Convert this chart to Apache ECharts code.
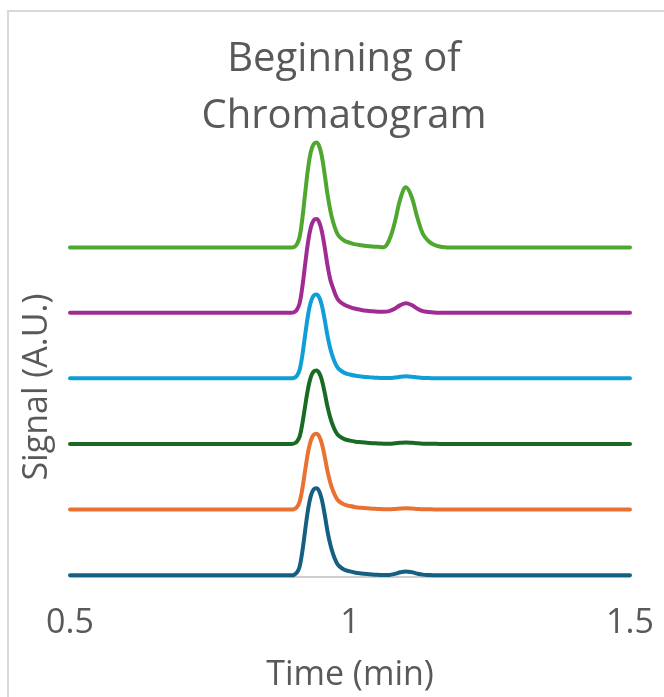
<!DOCTYPE html>
<html>
<head>
<meta charset="utf-8">
<script src="https://cdn.jsdelivr.net/npm/echarts@6/dist/echarts.min.js"></script>
<style>
  html, body { margin: 0; padding: 0; background: #ffffff; }
  #chart { width: 664px; height: 697px; }
</style>
</head>
<body>
<div id="chart"></div>
<script>
// Retention time (min) shared by every trace
const times = [0.5, 0.89, 0.895, 0.9, 0.905, 0.91, 0.915, 0.92, 0.925, 0.93, 0.935, 0.94, 0.945, 0.95, 0.955, 0.96, 0.965, 0.97, 0.975, 0.98, 0.99, 1.0, 1.01, 1.02, 1.03, 1.04, 1.05, 1.06, 1.07, 1.08, 1.09, 1.1, 1.11, 1.12, 1.13, 1.14, 1.15, 1.16, 1.17, 1.18, 1.2, 1.5];

// Stacked detector signals (A.U.), each trace offset by one unit
const trace1 = [0.025, 0.025, 0.025, 0.032, 0.065, 0.158, 0.397, 0.717, 1.023, 1.235, 1.335, 1.355, 1.308, 1.169, 0.943, 0.690, 0.491, 0.344, 0.238, 0.171, 0.111, 0.085, 0.065, 0.054, 0.045, 0.038, 0.033, 0.029, 0.032, 0.048, 0.072, 0.085, 0.074, 0.052, 0.036, 0.030, 0.027, 0.026, 0.025, 0.025, 0.025, 0.025];
const trace2 = [1.03, 1.03, 1.03, 1.036, 1.065, 1.146, 1.353, 1.631, 1.896, 2.081, 2.168, 2.185, 2.145, 2.023, 1.827, 1.608, 1.434, 1.307, 1.215, 1.157, 1.105, 1.082, 1.065, 1.055, 1.047, 1.042, 1.037, 1.033, 1.033, 1.037, 1.044, 1.048, 1.045, 1.038, 1.033, 1.032, 1.031, 1.03, 1.03, 1.03, 1.03, 1.03];
const trace3 = [2.03, 2.03, 2.03, 2.036, 2.064, 2.142, 2.344, 2.612, 2.87, 3.049, 3.133, 3.15, 3.111, 2.993, 2.803, 2.59, 2.422, 2.299, 2.209, 2.153, 2.103, 2.08, 2.064, 2.055, 2.047, 2.041, 2.037, 2.033, 2.033, 2.038, 2.047, 2.052, 2.048, 2.04, 2.034, 2.032, 2.031, 2.03, 2.03, 2.03, 2.03, 2.03];
const trace4 = [3.03, 3.03, 3.03, 3.036, 3.068, 3.158, 3.388, 3.696, 3.99, 4.195, 4.291, 4.31, 4.265, 4.131, 3.913, 3.67, 3.478, 3.337, 3.235, 3.171, 3.113, 3.088, 3.068, 3.058, 3.049, 3.043, 3.038, 3.034, 3.034, 3.041, 3.054, 3.06, 3.055, 3.044, 3.035, 3.033, 3.031, 3.03, 3.03, 3.03, 3.03, 3.03];
const trace5 = [4.03, 4.03, 4.03, 4.037, 4.073, 4.173, 4.43, 4.774, 5.103, 5.331, 5.439, 5.46, 5.41, 5.26, 5.017, 4.745, 4.53, 4.402, 4.287, 4.216, 4.152, 4.116, 4.09, 4.073, 4.061, 4.053, 4.047, 4.044, 4.055, 4.092, 4.147, 4.174, 4.148, 4.094, 4.055, 4.043, 4.035, 4.031, 4.03, 4.03, 4.03, 4.03];
const trace6 = [5.025, 5.025, 5.025, 5.033, 5.073, 5.185, 5.473, 5.857, 6.225, 6.481, 6.601, 6.625, 6.569, 6.401, 6.129, 5.825, 5.585, 5.409, 5.281, 5.201, 5.129, 5.097, 5.073, 5.06, 5.049, 5.041, 5.035, 5.03, 5.14, 5.41, 5.77, 5.945, 5.80, 5.49, 5.235, 5.125, 5.068, 5.04, 5.028, 5.025, 5.025, 5.025];

const traces = [trace1, trace2, trace3, trace4, trace5, trace6];
const traceColors = ['#156082', '#E97132', '#196B24', '#0F9ED5', '#A02B93', '#4EA72E'];

// Axis ticks
const xTicks = [0.5, 1, 1.5];

const titleText = 'Beginning of\nChromatogram';
const xTitle = 'Time (min)';
const yTitle = 'Signal (A.U.)';

const textColor = '#595959';
const fontFamily = '"Open Sans", Roboto, sans-serif';

const chart = echarts.init(document.getElementById('chart'), null, { renderer: 'canvas' });

const series = traces.map((vals, i) => ({
  type: 'line',
  data: times.map((t, k) => [t, vals[k]]),
  symbol: 'none',
  smooth: 0.4,
  lineStyle: { color: traceColors[i], width: 4, cap: 'round', join: 'round' },
  z: 3 + i
}));

chart.setOption({
  animation: false,
  backgroundColor: '#ffffff',
  title: {
    text: titleText,
    left: 339,
    top: 26,
    textAlign: 'center',
    textStyle: {
      color: textColor,
      fontFamily: fontFamily,
      fontSize: 40,
      fontWeight: 'normal',
      lineHeight: 57
    }
  },
  graphic: [{
    type: 'rect',
    shape: { x: 8, y: 11, width: 700, height: 700 },
    style: { fill: 'none', stroke: '#d9d9d9', lineWidth: 2 },
    silent: true
  }, {
    // vertical axis title
    type: 'text',
    x: 37,
    y: 387,
    rotation: Math.PI / 2,
    style: {
      text: yTitle,
      fill: textColor,
      font: '34px ' + fontFamily,
      textAlign: 'center',
      textVerticalAlign: 'middle'
    },
    silent: true
  }],
  grid: { left: 70, right: 34, top: 118, bottom: 118, containLabel: false },
  xAxis: {
    type: 'value',
    min: xTicks[0],
    max: xTicks[xTicks.length - 1],
    interval: xTicks[1] - xTicks[0],
    name: xTitle,
    nameLocation: 'middle',
    nameGap: 81,
    nameTextStyle: { color: textColor, fontFamily: fontFamily, fontSize: 34 },
    axisLine: { show: true, lineStyle: { color: '#bfbfbf', width: 1.5 } },
    axisTick: { show: false },
    splitLine: { show: false },
    axisLabel: {
      color: textColor,
      fontFamily: fontFamily,
      fontSize: 34,
      margin: 29,
      formatter: v => String(v)
    }
  },
  yAxis: {
    type: 'value',
    min: 0,
    max: 7,
    axisLine: { show: false },
    axisTick: { show: false },
    axisLabel: { show: false },
    splitLine: { show: false }
  },
  series: series
});
</script>
</body>
</html>
